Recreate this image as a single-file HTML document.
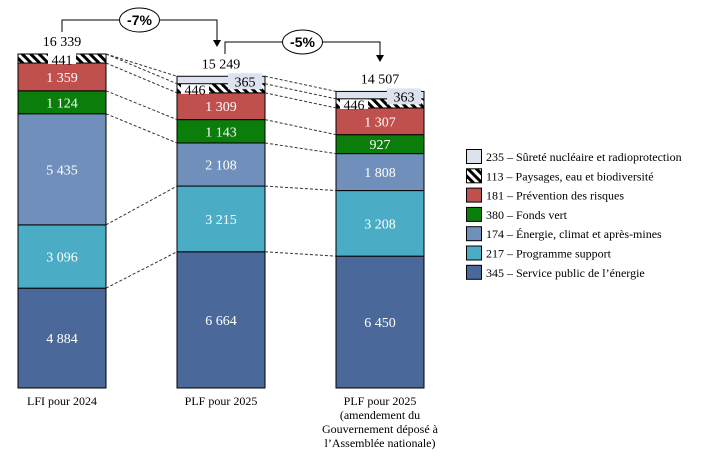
<!DOCTYPE html>
<html><head><meta charset="utf-8"><style>
body{margin:0;background:#fff;}
svg{display:block;font-family:"Liberation Serif",serif;}
</style></head><body>
<svg id="chart" width="724" height="473" viewBox="0 0 724 473" xmlns="http://www.w3.org/2000/svg">
<defs>
<pattern id="hatch" patternUnits="userSpaceOnUse" width="6" height="6" patternTransform="rotate(-45)">
<rect width="6" height="6" fill="#fff"/><rect width="3" height="6" fill="#000"/>
</pattern>
</defs>
<g id="bars"></g>
<g id="annot"></g>
<g id="legend"></g>
</svg>
<script>
const categories = ["LFI pour 2024","PLF pour 2025","PLF pour 2025|(amendement du|Gouvernement déposé à|l’Assemblée nationale)"];
const totals = ["16 339","15 249","14 507"];
const seriesNames = ["345 – Service public de l’énergie","217 – Programme support","174 – Énergie, climat et après-mines","380 – Fonds vert","181 – Prévention des risques","113 – Paysages, eau et biodiversité","235 – Sûreté nucléaire et radioprotection"];
const service = [4884,6664,6450];
const support = [3096,3215,3208];
const energie = [5435,2108,1808];
const fondsVert = [1124,1143,927];
const risques = [1359,1309,1307];
const paysages = [441,446,446];
const surete = [0,365,363];
const changes = ["-7%","-5%"];

const series=[service,support,energie,fondsVert,risques,paysages,surete];
const colors=["#4a6899","#4bacc6","#7090bb","#0a7d0a","#c0504d","url(#hatch)","#dce3ee"];
const textCol=["#fff","#fff","#fff","#fff","#fff","#000","#000"];
const NS="http://www.w3.org/2000/svg";
const base=388, scale=334/16339, barW=88;
const xs=[18,177,336];
function y(v){return base-v*scale;}
function fmt(v){return String(v).replace(/\B(?=(\d{3})+(?!\d))/g," ");}
function mk(tag,attrs,parent){const e=document.createElementNS(NS,tag);for(const k in attrs)e.setAttribute(k,attrs[k]);parent.appendChild(e);return e;}
const gb=document.getElementById('bars'), ga=document.getElementById('annot'), gl=document.getElementById('legend');
const bounds=[];
categories.forEach((c,i)=>{
  let cum=0; const b=[y(0)];
  series.forEach((s,j)=>{
    const v=s[i]; const y0=y(cum), y1=y(cum+v); cum+=v; b.push(y1);
    if(v<=0) return;
    const r=mk('rect',{x:xs[i],y:y1,width:barW,height:y0-y1,fill:colors[j],stroke:"#000","stroke-width":1},gb);
    
    
    const cy=(y0+y1)/2+5;
    if(j===5){
      const lx = i===0 ? xs[i]+barW/2 : xs[i]+18;
      mk('rect',{x:lx-14,y:y1-1,width:28,height:(y0-y1)+2,fill:"#fff"},gb);
      const t=mk('text',{x:lx,y:cy+1,"text-anchor":"middle","font-size":14,fill:"#000"},gb);t.textContent=fmt(v);
      
      
    } else if(j===6){
      const lx=xs[i]+barW-20;
      mk('rect',{x:lx-17,y:y1-3,width:34,height:16,fill:"#dce3ee"},gb);
      const t=mk('text',{x:lx,y:y1+10,"text-anchor":"middle","font-size":14,fill:"#000"},gb);t.textContent=fmt(v);
      
      
    } else {
      const t=mk('text',{x:xs[i]+barW/2,y:cy,"text-anchor":"middle","font-size":14,fill:textCol[j]},gb);t.textContent=fmt(v);
      
      
    }
  });
  bounds.push(b);
  const tt=mk('text',{x:xs[i]+barW/2,y:y(cum)-8,"text-anchor":"middle","font-size":14},ga);tt.textContent=totals[i];
  
  
  const lines=c.split("|");
  lines.forEach((ln,k)=>{const t=mk('text',{x:xs[i]+barW/2,y:405+k*14,"text-anchor":"middle","font-size":12},ga);t.textContent=ln;
    
    });
});
for(let i=0;i<2;i++){
  for(let k=1;k<bounds[i].length;k++){
    const l=mk('line',{x1:xs[i]+barW,y1:bounds[i][k],x2:xs[i+1],y2:bounds[i+1][k],stroke:"#333","stroke-width":1,"stroke-dasharray":"3,2"},gb);
    
    
  }
}
const arrows=[{x1:62,x2:217,yy:20,yb:47},{x1:225,x2:380,yy:42,yb:62}];
arrows.forEach((a,i)=>{
  mk('path',{d:`M${a.x1},${a.yy+12}V${a.yy}H${a.x2}V${a.yb-6}`,fill:"none",stroke:"#000","stroke-width":1},ga);
  mk('path',{d:`M${a.x2-4},${a.yb-7}L${a.x2+4},${a.yb-7}L${a.x2},${a.yb}Z`,fill:"#000"},ga);
  const cx=(a.x1+a.x2)/2;
  const e=mk('ellipse',{cx:cx,cy:a.yy,rx:20,ry:12,fill:"#fff",stroke:"#000","stroke-width":1},ga);
  
  
  const t=mk('text',{x:cx,y:a.yy+5,"text-anchor":"middle","font-size":14,"font-weight":"bold","font-family":"Liberation Sans, sans-serif"},ga);t.textContent=changes[i];
  
  
});
for(let j=6;j>=0;j--){
  const r=6-j, yy=149+r*19.3;
  const b=mk('rect',{x:466.5,y:yy+0.5,width:15,height:14,fill:colors[j],stroke:"#000","stroke-width":1},gl);
  
  
  const t=mk('text',{x:486,y:yy+12,"font-size":12},gl);t.textContent=seriesNames[j];
  
  
}
</script>
</body></html>
